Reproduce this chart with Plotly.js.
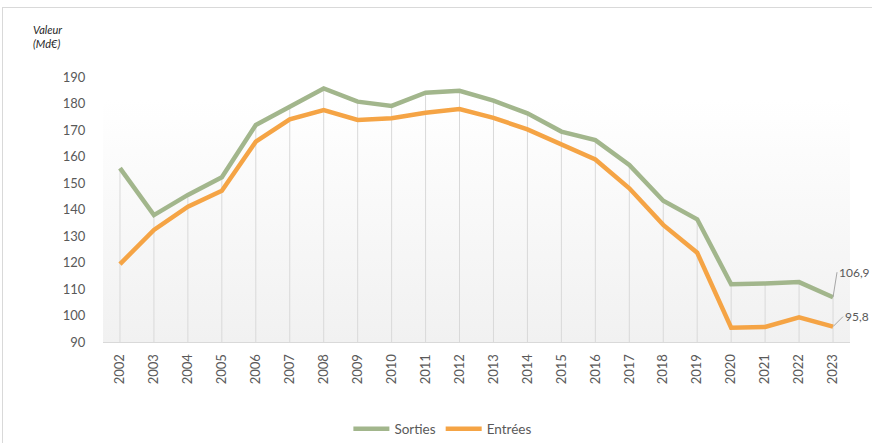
<!DOCTYPE html>
<html>
<head>
<meta charset="utf-8">
<script src="https://cdn.plot.ly/plotly-3.0.1.min.js"></script>
<style>
  html, body { margin: 0; padding: 0; background: #ffffff; }
  #wrap { position: relative; width: 872px; height: 443px; overflow: hidden; }
  #frame { position: absolute; left: 2px; top: 7px; width: 880px; height: 450px; border: 1px solid #d9d9d9; box-sizing: border-box; }
  #bg { position: absolute; left: 103px; top: 100px; width: 747px; height: 242px; background: linear-gradient(to bottom, #ffffff 0%, #f1f1f1 100%); }
  #chart { position: absolute; left: 0; top: 0; width: 872px; height: 443px; }
</style>
</head>
<body>
<div id="wrap">
  <div id="frame"></div>
  <div id="bg"></div>
  <div id="chart"></div>
</div>
<script>
const years = [2002,2003,2004,2005,2006,2007,2008,2009,2010,2011,2012,2013,2014,2015,2016,2017,2018,2019,2020,2021,2022,2023];
const sorties = [155.6,137.9,145.5,152.2,171.9,178.8,185.7,180.7,179.1,184.1,184.8,181.1,176.3,169.4,166.2,156.8,143.3,136.3,111.8,112.1,112.6,106.9];
const entrees = [119.4,132.3,141.1,147.1,165.6,174.0,177.5,173.8,174.4,176.5,177.9,174.6,170.2,164.7,158.9,148.0,134.2,123.7,95.4,95.7,99.3,95.8];
const yTicks = [90,100,110,120,130,140,150,160,170,180,190];
const seriesNames = ["Sorties", "Entrées"];
const lastLabels = ["106,9", "95,8"];

const greenC = "#a2b68c";
const orangeC = "#f5a445";
const txtC = "#595959";
const fontFam = "Lato, 'Open Sans', 'Liberation Sans', sans-serif";

// drop lines from axis up to the highest series at each year
const dropX = [], dropY = [];
years.forEach((yr, i) => {
  dropX.push(yr, yr, null);
  dropY.push(yTicks[0], Math.max(sorties[i], entrees[i]), null);
});

const traces = [
  { x: dropX, y: dropY, mode: "lines", line: { color: "#d9d9d9", width: 1 }, showlegend: false, hoverinfo: "skip" },
  { x: years, y: sorties, name: seriesNames[0], mode: "lines", line: { color: greenC, width: 4.5 } },
  { x: years, y: entrees, name: seriesNames[1], mode: "lines", line: { color: orangeC, width: 4.5 } }
];

const n = years.length - 1;
const layout = {
  width: 872, height: 443,
  margin: { l: 103, r: 22, t: 77, b: 101, autoexpand: false },
  paper_bgcolor: "rgba(0,0,0,0)",
  plot_bgcolor: "rgba(0,0,0,0)",
  font: { family: fontFam, color: txtC, size: 13 },
  xaxis: {
    range: [years[0] - 0.5, years[n] + 0.5],
    tickmode: "array", tickvals: years, ticktext: years.map(String),
    tickangle: -90, showgrid: false, zeroline: false,
    showline: true, linecolor: "#d9d9d9", linewidth: 1,
    ticks: "outside", ticklen: 6, tickcolor: "rgba(0,0,0,0)",
    tickfont: { size: 13, color: txtC, family: fontFam }
  },
  yaxis: {
    range: [yTicks[0], yTicks[yTicks.length - 1]],
    tickmode: "array", tickvals: yTicks,
    showgrid: false, zeroline: false, showline: false,
    ticks: "outside", ticklen: 14, tickcolor: "rgba(0,0,0,0)",
    tickfont: { size: 13, color: txtC, family: fontFam }
  },
  legend: {
    orientation: "h", x: 0.455, xanchor: "center", y: -0.27, yanchor: "top",
    font: { size: 13.5, color: txtC, family: fontFam },
    itemwidth: 36, tracegroupgap: 0
  },
  annotations: [
    { xref: "paper", yref: "paper", x: -0.097, y: 1.21, xanchor: "left", yanchor: "top",
      text: "<i>Valeur<br>(Md€)</i>", showarrow: false, align: "left",
      font: { size: 11, color: "#262626", family: fontFam } },
    { x: years[n], y: sorties[n], text: lastLabels[0], showarrow: true, arrowhead: 0,
      arrowwidth: 1, arrowcolor: "#a6a6a6", ax: 4, ay: -25, xanchor: "left",
      font: { size: 12, color: txtC, family: fontFam } },
    { x: years[n], y: entrees[n], text: lastLabels[1], showarrow: true, arrowhead: 0,
      arrowwidth: 1, arrowcolor: "#a6a6a6", ax: 10, ay: -10, xanchor: "left",
      font: { size: 12, color: txtC, family: fontFam } }
  ],
  showlegend: true
};

Plotly.newPlot("chart", traces, layout, { displayModeBar: false, staticPlot: true });
</script>
</body>
</html>
